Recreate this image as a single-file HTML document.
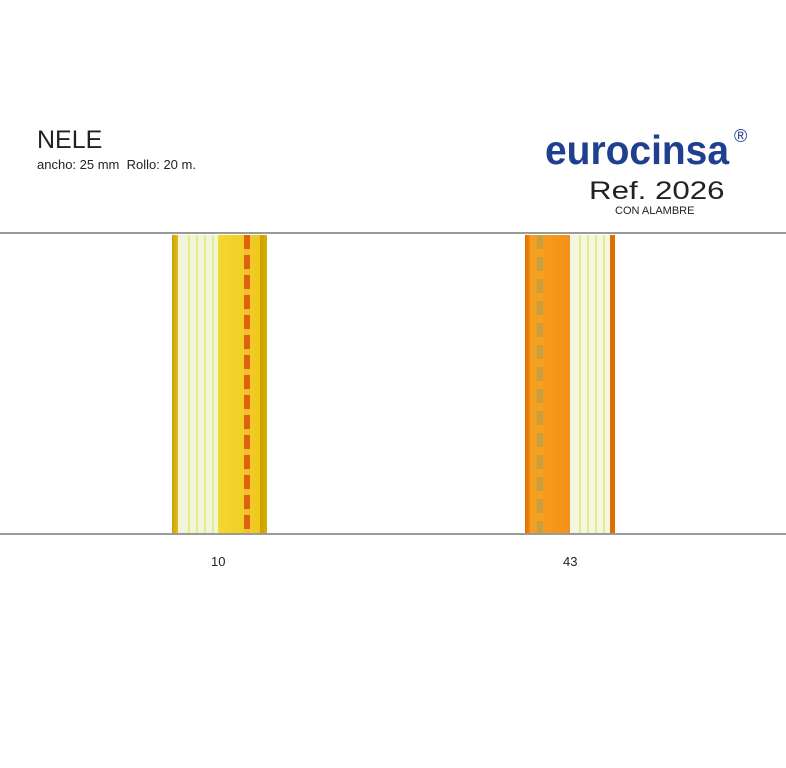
<!DOCTYPE html>
<html><head><style>
body{margin:0;width:786px;height:768px;background:#fff;position:relative;overflow:hidden;font-family:"Liberation Sans",sans-serif}
.t{position:absolute;white-space:nowrap}
.hl{position:absolute;left:0;width:786px;height:2px;background:#9a9a9a}
.r{position:absolute;top:235px;height:298px}
</style></head><body>
<div class="t" style="left:37px;top:126px;font-size:25px;color:#222">NELE</div>
<div class="t" style="left:37px;top:157px;font-size:13px;color:#222">ancho: 25 mm&nbsp; Rollo: 20 m.</div>
<div class="t" style="left:545px;top:127px;font-size:41px;font-weight:bold;color:#1f3f8f;transform-origin:0 0;transform:scaleX(0.95)">eurocinsa</div>
<div class="t" style="left:734px;top:126px;font-size:18px;color:#1f3f8f">®</div>
<div class="t" style="left:589px;top:177px;font-size:25px;color:#222;transform-origin:0 0;transform:scaleX(1.25)">Ref. 2026</div>
<div class="t" style="left:615px;top:205px;font-size:11px;color:#222">CON ALAMBRE</div>
<div class="hl" style="top:232px"></div>
<div class="hl" style="top:533px"></div>

<div class="r" style="left:172px;width:95px;background:linear-gradient(90deg,#c9a000 0,#e0c020 6px,#f2f5d8 6px,#f2f5d8 46px,#f2d830 46px,#f0c820 88px,#c9a000 88px,#d8b000 95px)">
<div style="position:absolute;left:10px;top:0;width:32px;height:100%;background:repeating-linear-gradient(90deg,transparent 0,transparent 6px,#e4ec90 6px,#e4ec90 8px)"></div>
<div style="position:absolute;left:72px;top:0;width:6px;height:100%;background:repeating-linear-gradient(180deg,#e06010 0,#e06010 14px,#f0c030 14px,#f0c030 20px)"></div>
</div>
<div class="r" style="left:525px;width:90px;background:linear-gradient(90deg,#e07000 0,#f08a10 5px,#f6a020 5px,#f59018 45px,#f4f6e0 45px,#f4f6e0 85px,#e07000 85px,#e06a00 90px)">
<div style="position:absolute;left:12px;top:0;width:6px;height:100%;background:repeating-linear-gradient(180deg,#c8a040 0,#c8a040 14px,#f6a020 14px,#f6a020 22px)"></div>
<div style="position:absolute;left:48px;top:0;width:36px;height:100%;background:repeating-linear-gradient(90deg,transparent 0,transparent 6px,#e4ec90 6px,#e4ec90 8px)"></div>
</div>

<div class="t" style="left:211px;top:554px;font-size:13px;color:#222">10</div>
<div class="t" style="left:563px;top:554px;font-size:13px;color:#222">43</div>
</body></html>
